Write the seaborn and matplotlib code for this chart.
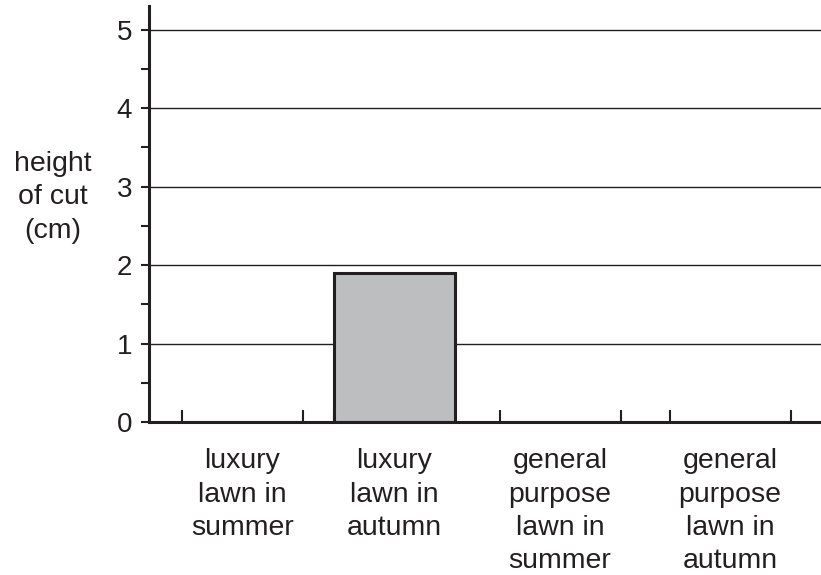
import numpy as np
import matplotlib
matplotlib.use("Agg")
import matplotlib.pyplot as plt
import seaborn as sns

# chart data
categories = ["luxury\nlawn in\nsummer", "luxury\nlawn in\nautumn",
              "general\npurpose\nlawn in\nsummer", "general\npurpose\nlawn in\nautumn"]
heights = [0, 1.9, 0, 0]

# layout (slot centres and widths, in pixel-like units)
x_pos = [242.5, 394, 560, 730]
bar_w = 121

ink = "#231f20"
sns.set_style("white")
plt.rcParams["font.family"] = ["Liberation Sans", "DejaVu Sans"]

fig = plt.figure(figsize=(8.21, 5.75), dpi=100)
ax = fig.add_axes([149 / 821, 1 - 422 / 575, 1 - 149 / 821, (422 - 6) / 575])

sns.barplot(x=x_pos, y=heights, native_scale=True,
            width=bar_w / min(np.diff(x_pos)),
            color="#bcbec0", saturation=1, edgecolor=ink, linewidth=2.2,
            ax=ax, zorder=3)

ax.set_xlim(149, 821)
ax.set_ylim(0, 5.3)

# horizontal grid lines
for v in range(1, 6):
    ax.axhline(v, color=ink, lw=1.0, zorder=1)

for s in ["top", "right"]:
    ax.spines[s].set_visible(False)
for s in ["left", "bottom"]:
    ax.spines[s].set_color(ink)
    ax.spines[s].set_linewidth(2.2)
    ax.spines[s].set_zorder(4)

ax.set_yticks(range(0, 6))
ax.set_yticks(np.arange(0.5, 5.5, 1), minor=True)
ax.tick_params(axis="y", which="both", left=True, direction="out", length=6,
               width=1.5, color=ink, labelsize=20, labelcolor=ink, pad=6)

ax.set_xticks(x_pos)
ax.set_xticklabels(categories, fontsize=20.5, color=ink, linespacing=1.36, va="top")
ax.tick_params(axis="x", which="major", bottom=True, length=0, pad=19)
edges = [c + d for c in x_pos for d in (-bar_w / 2, bar_w / 2)]
ax.set_xticks(edges, minor=True)
ax.tick_params(axis="x", which="minor", bottom=True, direction="in", length=9,
               width=1.5, color=ink)

ax.set_xlabel("")
ax.set_ylabel("height\nof cut\n(cm)", rotation=0, fontsize=20.5, color=ink,
              linespacing=1.36, ha="center", va="center")
ax.yaxis.set_label_coords(-(149 - 52.5) / 672, 0.54)

fig.savefig("out.png", dpi=100)
